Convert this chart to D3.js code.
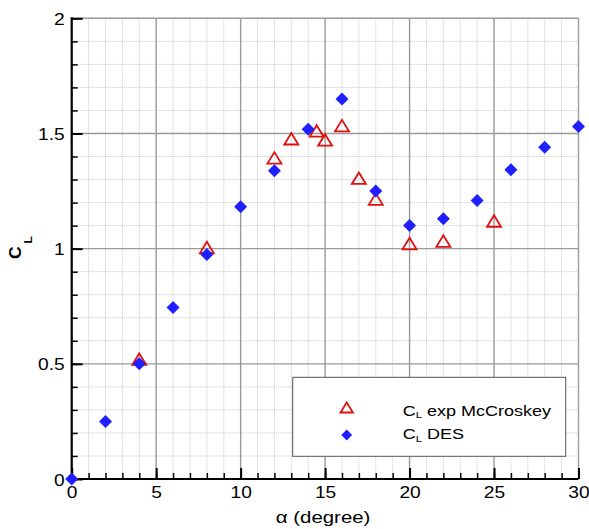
<!DOCTYPE html>
<html>
<head>
<meta charset="utf-8">
<script src="https://cdn.jsdelivr.net/npm/d3@7"></script>
<style>
  html, body { margin: 0; padding: 0; background: #fff; }
  svg { display: block; }
  text { font-family: "Liberation Sans", Arial, sans-serif; fill: #000; }
</style>
</head>
<body>
<svg id="chart" width="589" height="529"></svg>
<script>
// ---- data ----
const alphaDES = [0, 2, 4, 6, 8, 10, 12, 14, 16, 18, 20, 22, 24, 26, 28, 30];
const clDES    = [0, 0.25, 0.50, 0.745, 0.975, 1.182, 1.338, 1.518, 1.650, 1.250, 1.100, 1.130, 1.209, 1.342, 1.440, 1.530];

const alphaExp = [4, 8, 12, 13, 14.5, 15, 16, 17, 18, 20, 22, 25];
const clExp    = [0.52, 1.005, 1.394, 1.477, 1.511, 1.472, 1.534, 1.306, 1.215, 1.022, 1.033, 1.120];

const xMajorTicks = [0, 5, 10, 15, 20, 25, 30];
const yMajorTicks = [0, 0.5, 1, 1.5, 2];
const xTickLabels = ["0", "5", "10", "15", "20", "25", "30"];
const yTickLabels = ["0", "0.5", "1", "1.5", "2"];
const legendLabels = [" exp McCroskey", " DES"];

// ---- layout ----
const svg = d3.select("#chart");
const L = 71.7, R = 578.5, T = 18.3, B = 479;
const x = d3.scaleLinear().domain([0, 30]).range([L, R]);
const y = d3.scaleLinear().domain([0, 2]).range([B, T]);
const SX = 1.2; // horizontal text stretch seen in the reference

const xMinor = d3.range(0, 31, 1);
const yMinor = d3.range(0, 21, 1).map(d => d / 10);

// minor grid
const g = svg.append("g");
g.selectAll(".xm").data(xMinor.filter(d => d % 5 !== 0)).join("line")
  .attr("x1", d => x(d)).attr("x2", d => x(d)).attr("y1", T).attr("y2", B)
  .attr("stroke", "#c6c6c6").attr("stroke-width", 1).attr("stroke-dasharray", "1,1");
g.selectAll(".ym").data(yMinor.filter(d => Math.round(d * 10) % 5 !== 0)).join("line")
  .attr("y1", d => y(d)).attr("y2", d => y(d)).attr("x1", L).attr("x2", R)
  .attr("stroke", "#c6c6c6").attr("stroke-width", 1).attr("stroke-dasharray", "1,1");
// major grid
g.selectAll(".xM").data(xMajorTicks).join("line")
  .attr("x1", d => x(d)).attr("x2", d => x(d)).attr("y1", T).attr("y2", B)
  .attr("stroke", "#9a9a9a").attr("stroke-width", 1.4);
g.selectAll(".yM").data(yMajorTicks).join("line")
  .attr("y1", d => y(d)).attr("y2", d => y(d)).attr("x1", L).attr("x2", R)
  .attr("stroke", "#9a9a9a").attr("stroke-width", 1.4);

// axes: minor ticks
svg.append("g").attr("transform", `translate(0,${B})`)
  .call(d3.axisBottom(x).tickValues(xMinor).tickSize(-6).tickFormat(""))
  .call(a => a.select(".domain").remove())
  .call(a => a.selectAll("line").attr("stroke", "#000").attr("stroke-width", 1.5));
svg.append("g").attr("transform", `translate(${L},0)`)
  .call(d3.axisLeft(y).tickValues(yMinor).tickSize(-6).tickFormat(""))
  .call(a => a.select(".domain").remove())
  .call(a => a.selectAll("line").attr("stroke", "#000").attr("stroke-width", 1.5));

// axes: major ticks + labels
svg.append("g").attr("transform", `translate(0,${B})`)
  .call(d3.axisBottom(x).tickValues(xMajorTicks).tickSize(-11)
        .tickFormat((d, i) => xTickLabels[i]))
  .call(a => a.select(".domain").remove())
  .call(a => a.selectAll("line").attr("stroke", "#000").attr("stroke-width", 2))
  .call(a => a.selectAll("text")
        .attr("y", 0).attr("dy", null).attr("x", 0)
        .attr("transform", `translate(0,18.5) scale(${SX},1)`)
        .attr("font-size", 16).attr("font-family", "Liberation Sans, Arial, sans-serif")
        .attr("fill", "#000"));
svg.append("g").attr("transform", `translate(${L},0)`)
  .call(d3.axisLeft(y).tickValues(yMajorTicks).tickSize(-11)
        .tickFormat((d, i) => yTickLabels[i]))
  .call(a => a.select(".domain").remove())
  .call(a => a.selectAll("line").attr("stroke", "#000").attr("stroke-width", 2))
  .call(a => a.selectAll("text")
        .attr("x", 0).attr("y", 0).attr("dy", null)
        .attr("transform", `translate(-7,6) scale(${SX},1)`)
        .attr("font-size", 16).attr("font-family", "Liberation Sans, Arial, sans-serif")
        .attr("fill", "#000"));

// axis lines
svg.append("line").attr("x1", L).attr("x2", L).attr("y1", T - 1).attr("y2", B + 1)
  .attr("stroke", "#000").attr("stroke-width", 2.2);
svg.append("line").attr("x1", L - 1).attr("x2", R).attr("y1", B).attr("y2", B)
  .attr("stroke", "#000").attr("stroke-width", 2.2);

// axis titles
svg.append("text")
  .attr("transform", `translate(${(L + R) / 2 - 2},523) scale(${SX},1)`)
  .attr("text-anchor", "middle").attr("font-size", 17)
  .text("α (degree)");

const yl = svg.append("text")
  .attr("transform", "translate(21,259) scale(0.9,1) rotate(-90)")
  .attr("font-weight", "bold").attr("font-size", 17.5);
yl.append("tspan").text("C");
yl.append("tspan").attr("dx", 3).attr("dy", 12).attr("font-size", 12).text("L");

// markers
const RED = "#e01010", BLUE = "#1f1fff";
function triPath(w, h) {
  return `M0,${-h / 2}L${w / 2},${h / 2}L${-w / 2},${h / 2}Z`;
}
function diaPath(r) {
  return `M0,${-r}L${r},0L0,${r}L${-r},0Z`;
}
const expData = alphaExp.map((a, i) => ({ a, c: clExp[i] }));
const desData = alphaDES.map((a, i) => ({ a, c: clDES[i] }));

svg.append("g").selectAll("path").data(expData).join("path")
  .attr("transform", d => `translate(${x(d.a)},${y(d.c)})`)
  .attr("d", triPath(14, 11.5))
  .attr("fill", "none").attr("stroke", RED).attr("stroke-width", 1.8)
  .attr("stroke-linejoin", "miter");
svg.append("g").selectAll("path").data(desData).join("path")
  .attr("transform", d => `translate(${x(d.a)},${y(d.c)})`)
  .attr("d", diaPath(6.5))
  .attr("fill", BLUE);

// legend
const lg = svg.append("g");
lg.append("rect").attr("x", 292.7).attr("y", 377.3).attr("width", 273).attr("height", 79)
  .attr("fill", "#fff").attr("stroke", "#555").attr("stroke-width", 1);
lg.append("path").attr("transform", "translate(346.7,407.5)").attr("d", triPath(12.5, 10))
  .attr("fill", "none").attr("stroke", RED).attr("stroke-width", 1.8);
lg.append("path").attr("transform", "translate(346.7,435)").attr("d", diaPath(5.4))
  .attr("fill", BLUE);
[415.7, 439].forEach((by, i) => {
  const t = lg.append("text")
    .attr("transform", `translate(402.7,${by}) scale(${SX},1)`)
    .attr("font-size", 15);
  t.append("tspan").text("C");
  t.append("tspan").attr("dy", 2.6).attr("font-size", 9.5).text("L");
  t.append("tspan").attr("dy", -2.6).text(legendLabels[i]);
});
</script>
</body>
</html>
